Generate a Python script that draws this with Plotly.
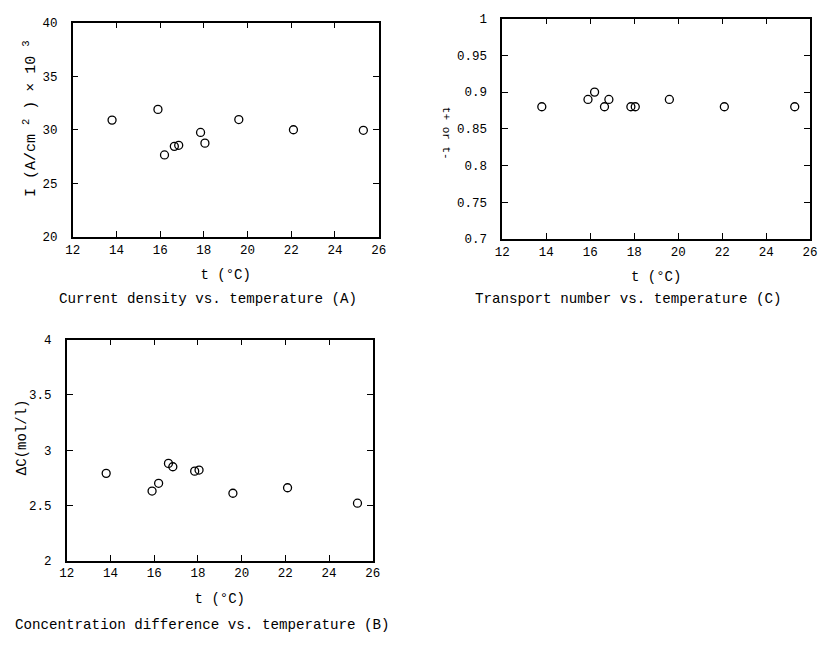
import plotly.graph_objects as go

temps = [13.8, 15.9, 16.2, 16.65, 16.85, 17.85, 18.05, 19.6, 22.1, 25.3]
current_density = [30.9, 31.9, 27.65, 28.45, 28.55, 29.75, 28.75, 30.95, 30.0, 29.95]
transport_number = [0.88, 0.89, 0.90, 0.88, 0.89, 0.88, 0.88, 0.89, 0.88, 0.88]
conc_diff = [2.79, 2.63, 2.70, 2.88, 2.85, 2.81, 2.82, 2.61, 2.66, 2.52]

W, H = 824, 645
FONT = "Liberation Mono"

def dom_x(a, b):
    return [a / W, b / W]

def dom_y(top, bottom):
    return [1 - bottom / H, 1 - top / H]

fig = go.Figure()
marker = dict(symbol="circle-open", size=8, color="black", line=dict(width=1.3, color="black"))

fig.add_trace(go.Scatter(x=temps, y=current_density, mode="markers", marker=marker, xaxis="x", yaxis="y", showlegend=False))
fig.add_trace(go.Scatter(x=temps, y=transport_number, mode="markers", marker=marker, xaxis="x2", yaxis="y2", showlegend=False))
fig.add_trace(go.Scatter(x=temps, y=conc_diff, mode="markers", marker=marker, xaxis="x3", yaxis="y3", showlegend=False))

common = dict(showline=True, linecolor="black", linewidth=1.5, mirror="ticks", ticks="inside",
              ticklen=6, tickwidth=1.2, tickcolor="black", showgrid=False, zeroline=False,
              tickfont=dict(family=FONT, size=12.5, color="black"))
xcommon = dict(common, range=[12, 26], dtick=2, tick0=12,
               title=dict(text="t (°C)", font=dict(family=FONT, size=14, color="black"), standoff=13))
ycommon = dict(common, ticklabelstandoff=11)

fig.update_layout(
    width=W, height=H, margin=dict(l=0, r=0, t=0, b=0),
    paper_bgcolor="white", plot_bgcolor="white",
    font=dict(family=FONT, color="black"),
    xaxis=dict(xcommon, domain=dom_x(66, 378), anchor="y"),
    yaxis=dict(ycommon, domain=dom_y(17, 236), anchor="x", range=[20, 40], dtick=5),
    xaxis2=dict(xcommon, domain=dom_x(504, 818), anchor="y2"),
    yaxis2=dict(ycommon, domain=dom_y(13, 238), anchor="x2", range=[0.7, 1.0], dtick=0.05,
                tickformat="~g"),
    xaxis3=dict(xcommon, domain=dom_x(60, 372), anchor="y3"),
    yaxis3=dict(ycommon, domain=dom_y(341, 567), anchor="x3", range=[2, 4], dtick=0.5,
                tickformat="~g"),
)

annots = [
    dict(text="Current density vs. temperature (A)", x=204 / W, y=1 - 299 / H),
    dict(text="Transport number vs. temperature (C)", x=633 / W, y=1 - 300 / H),
    dict(text="Concentration difference vs. temperature (B)", x=198 / W, y=1 - 633 / H),
]
for a in annots:
    fig.add_annotation(text=a["text"], x=a["x"], y=a["y"], xref="paper", yref="paper",
                       showarrow=False, xanchor="center", yanchor="middle",
                       font=dict(family=FONT, size=14.2, color="black"))

# rotated y-axis labels
fig.add_annotation(text="I (A/cm <sup>2</sup> ) × 10 <sup>3</sup>", x=22 / W, y=1 - 115 / H,
                   xref="paper", yref="paper", showarrow=False, textangle=-90,
                   xanchor="center", yanchor="middle",
                   font=dict(family=FONT, size=15, color="black"))
fig.add_annotation(text="ΔC(mol/l)", x=15 / W, y=1 - 441 / H,
                   xref="paper", yref="paper", showarrow=False, textangle=-90,
                   xanchor="center", yanchor="middle",
                   font=dict(family=FONT, size=14, color="black"))
fig.add_annotation(text="t+ or t-", x=447 / W, y=1 - 130 / H, xref="paper", yref="paper",
                   showarrow=False, textangle=90, xanchor="center", yanchor="middle",
                   font=dict(family=FONT, size=11, color="black"))

fig.write_html("out.html")
